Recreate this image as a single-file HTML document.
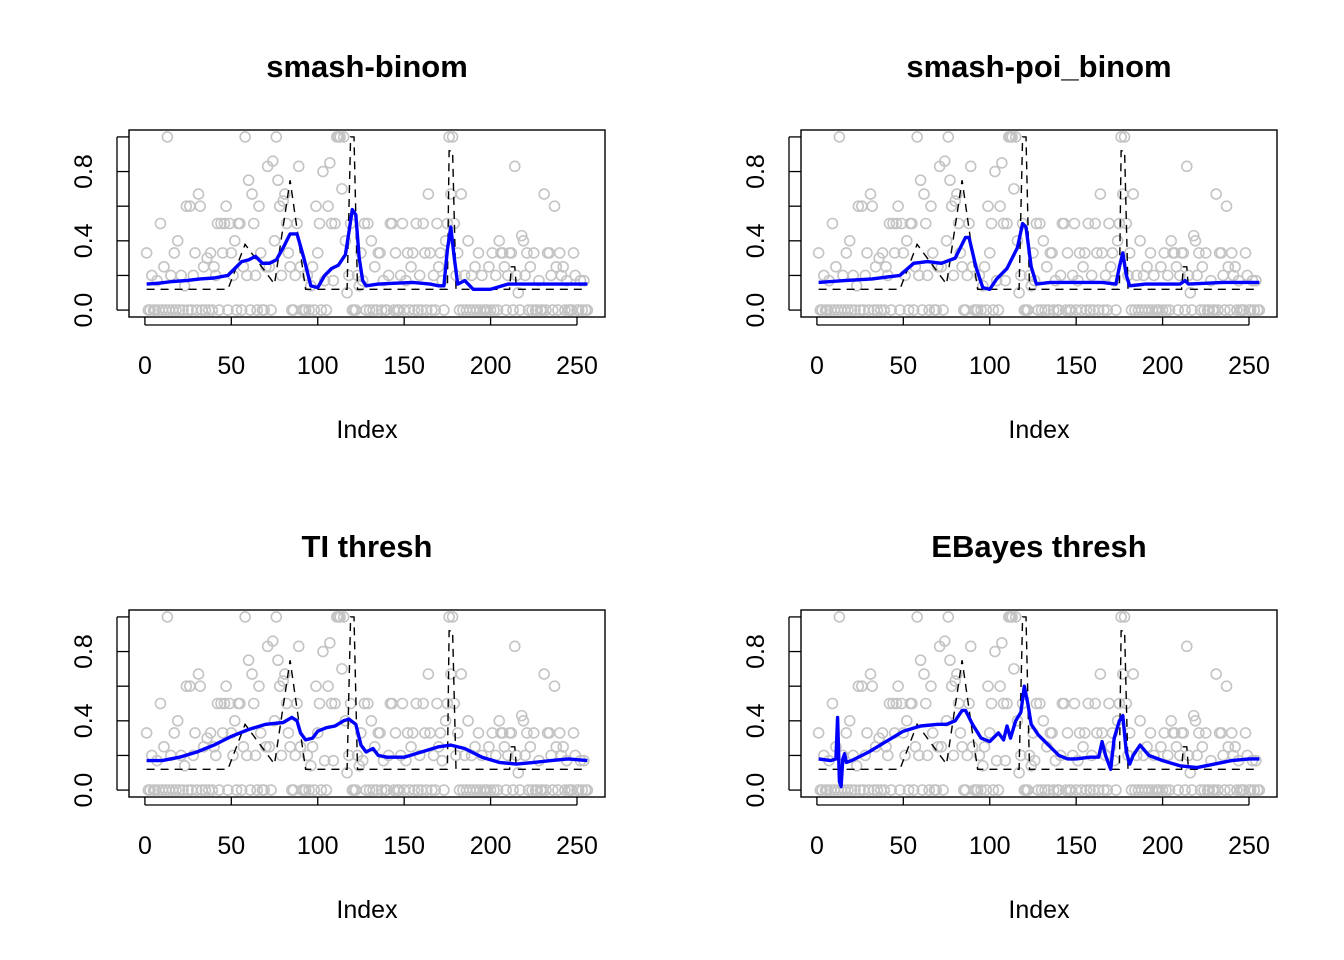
<!DOCTYPE html>
<html><head><meta charset="utf-8"><style>
body{margin:0;background:#fff;}
svg{display:block;font-family:"Liberation Sans",Arial,sans-serif;}
</style></head><body>
<svg id="chart" width="1344" height="960" viewBox="0 0 1344 960" xmlns="http://www.w3.org/2000/svg"></svg>
<script>
// observed proportions (grey points), index 1..256
const obs = [
0.33,0,0,0.2,0,0,0.17,0,0.5,0,0.25,0,1,0,0.2,0,
0.33,0,0.4,0,0.2,0,0.14,0.6,0,0.6,0,0.2,0.33,0,0.67,0.6,
0,0.25,0,0.3,0,0.33,0,0.25,0.2,0.5,0,0.5,0.33,0.5,0.6,0,
0.5,0.33,0.2,0.4,0,0.5,0.5,0,0.25,1,0.2,0.75,0,0.67,0.5,0.2,
0,0.6,0.33,0,0,0.25,0.83,0.25,0,0.86,0.4,1,0.75,0.6,0.2,0.63,
0.67,0.5,0.33,0.25,0,0,0.2,0.5,0.83,0.25,0,0,0,0.2,0,0.14,
0.25,0,0.6,0.33,0.5,0,0.8,0.17,0,0.6,0.85,0.5,0.17,0.5,1,1,
1,0.7,1,0.4,0.1,0.2,0.5,0,0,0,0.2,0.14,0.33,0.17,0.5,0,
0.5,0,0.4,0,0.25,0,0.33,0.33,0,0.17,0,0,0.2,0.5,0.5,0,
0.33,0,0,0.2,0.5,0,0.17,0.33,0,0.25,0.33,0,0.5,0,0.2,0,
0.5,0.33,0,0.67,0.33,0,0.2,0,0.5,0.25,0.33,0.17,0,0.4,0.5,1,
0.67,1,0.5,0.2,0.33,0,0.67,0,0.2,0,0.4,0,0.2,0,0.25,0,
0.33,0,0.2,0,0,0,0.25,0,0.33,0,0.2,0,0.4,0.33,0.33,0.25,
0,0.2,0.33,0.33,0,0.83,0.2,0.1,0,0.43,0.4,0.2,0.33,0,0.25,0,
0.33,0,0,0.17,0,0,0.67,0,0.33,0.33,0.2,0,0.6,0.25,0,0.33,
0.2,0.25,0,0.17,0,0,0,0.33,0.2,0,0,0.17,0,0.17,0,0];
// true mean (dashed)
const truthX = [1,48,58,75,84,93,117,119,121,123,125,175,176,178,180,181,211,212,214,215,256];
const truthY = [0.12,0.12,0.38,0.15,0.75,0.12,0.12,1.0,1.0,0.12,0.12,0.12,0.92,0.92,0.12,0.12,0.12,0.25,0.25,0.12,0.12];
// fits
const fit1X = [1,8,16,24,32,40,48,52,56,60,64,68,72,76,80,84,88,92,96,100,104,108,112,116,118,120,122,124,126,128,135,145,155,165,170,173,175,177,179,181,185,190,200,210,220,240,256];
const fit1Y = [0.15,0.155,0.165,0.17,0.18,0.185,0.20,0.24,0.28,0.29,0.31,0.27,0.27,0.29,0.36,0.44,0.44,0.30,0.14,0.13,0.20,0.24,0.26,0.32,0.45,0.58,0.55,0.30,0.17,0.14,0.15,0.155,0.16,0.15,0.14,0.14,0.35,0.48,0.30,0.15,0.17,0.12,0.12,0.15,0.15,0.15,0.15];
const fit2X = [1,16,32,48,56,64,72,80,86,88,92,96,100,104,110,116,119,121,124,127,135,150,165,173,175,177,179,181,190,210,213,215,235,256];
const fit2Y = [0.16,0.17,0.18,0.20,0.27,0.28,0.27,0.30,0.42,0.42,0.25,0.13,0.12,0.18,0.24,0.36,0.50,0.48,0.25,0.15,0.16,0.16,0.16,0.15,0.25,0.33,0.20,0.14,0.15,0.15,0.17,0.15,0.16,0.16];
const fit3X = [1,10,20,30,40,50,60,70,80,85,88,90,93,97,100,105,110,115,118,122,125,128,132,135,140,150,160,170,177,185,195,205,215,225,235,245,256];
const fit3Y = [0.17,0.17,0.19,0.22,0.26,0.31,0.35,0.38,0.39,0.42,0.40,0.33,0.29,0.30,0.34,0.36,0.37,0.40,0.41,0.38,0.26,0.22,0.24,0.20,0.19,0.19,0.22,0.25,0.26,0.24,0.19,0.16,0.15,0.16,0.17,0.18,0.17];
const fit4X = [1,8,11,12,13,14,15,16,17,20,30,40,50,60,70,75,80,84,86,90,95,100,105,108,110,112,115,118,120,122,124,128,135,140,145,150,158,163,165,167,170,172,175,177,179,181,183,187,192,200,210,220,230,240,250,256];
const fit4Y = [0.18,0.17,0.18,0.42,0.05,0.02,0.18,0.21,0.16,0.17,0.22,0.28,0.34,0.37,0.38,0.38,0.40,0.46,0.46,0.38,0.30,0.28,0.33,0.29,0.37,0.30,0.40,0.45,0.60,0.50,0.38,0.32,0.25,0.20,0.18,0.18,0.19,0.19,0.28,0.20,0.12,0.30,0.40,0.43,0.22,0.15,0.20,0.26,0.20,0.17,0.14,0.13,0.15,0.17,0.18,0.18];
const titles = ["smash-binom","smash-poi_binom","TI thresh","EBayes thresh"];
const xTicks = [0,50,100,150,200,250];
const yTicks = [0,0.2,0.4,0.6,0.8,1.0];
const yLabels = ["0.0","","0.4","","0.8",""];

const NS="http://www.w3.org/2000/svg";
const svg=document.getElementById('chart');
function mk(tag,attrs,parent){const e=document.createElementNS(NS,tag);for(const k in attrs)e.setAttribute(k,attrs[k]);(parent||svg).appendChild(e);return e;}
const fits=[[fit1X,fit1Y],[fit2X,fit2Y],[fit3X,fit3Y],[fit4X,fit4Y]];
const offs=[[0,0],[672,0],[0,480],[672,480]];
offs.forEach((o,p)=>{
  const g=mk('g',{transform:`translate(${o[0]},${o[1]})`});
  
  
  const L=129,R=605,T=130,B=317;
  const sx=v=>L+(v-(1-255*0.04))*(R-L)/(255*1.08);
  const sy=v=>B-(v+0.04)*(B-T)/1.08;
  obs.forEach((v,i)=>{
    const c=mk('circle',{cx:sx(i+1),cy:sy(v),r:5,fill:'none',stroke:'#c4c4c4','stroke-width':1.6},g);
    
    
  });
  let d=truthX.map((x,i)=>(i?'L':'M')+sx(x).toFixed(1)+' '+sy(truthY[i]).toFixed(1)).join(' ');
  const tl=mk('path',{d,fill:'none',stroke:'#000','stroke-width':1.4,'stroke-dasharray':'8 6'},g);
  
  
  const [fx,fy]=fits[p];
  d=fx.map((x,i)=>(i?'L':'M')+sx(x).toFixed(1)+' '+sy(fy[i]).toFixed(1)).join(' ');
  const fl=mk('path',{d,fill:'none',stroke:'#0000ff','stroke-width':3.4,'stroke-linejoin':'round'},g);
  
  
  const box=mk('rect',{x:L,y:T,width:R-L,height:B-T,fill:'none',stroke:'#000','stroke-width':1.4},g);
  
  
  xTicks.forEach(t=>{
    mk('line',{x1:sx(t),x2:sx(t),y1:B,y2:B+8,stroke:'#000','stroke-width':1.3},g);
    const tx=mk('text',{x:sx(t),y:B+57,'font-size':25,'text-anchor':'middle'},g);
    tx.textContent=t;
    
    
  });
  mk('line',{x1:sx(0),x2:sx(250),y1:B+8,y2:B+8,stroke:'#000','stroke-width':1.3},g);
  yTicks.forEach((t,i)=>{
    mk('line',{x1:L-12,x2:L,y1:sy(t),y2:sy(t),stroke:'#000','stroke-width':1.3},g);
    if(yLabels[i]){
      const tx=mk('text',{x:0,y:0,'font-size':25,'text-anchor':'middle',transform:`translate(${L-37},${sy(t)}) rotate(-90)`},g);
      tx.textContent=yLabels[i];
      
      
    }
  });
  mk('line',{x1:L-12,x2:L-12,y1:sy(0),y2:sy(1),stroke:'#000','stroke-width':1.3},g);
  const ti=mk('text',{x:(L+R)/2,y:77,'font-size':31,'font-weight':'bold','text-anchor':'middle'},g);
  ti.textContent=titles[p];
  
  
  const xl=mk('text',{x:(L+R)/2,y:438,'font-size':25,'text-anchor':'middle'},g);
  xl.textContent='Index';
  
  
});
</script>
</body></html>
